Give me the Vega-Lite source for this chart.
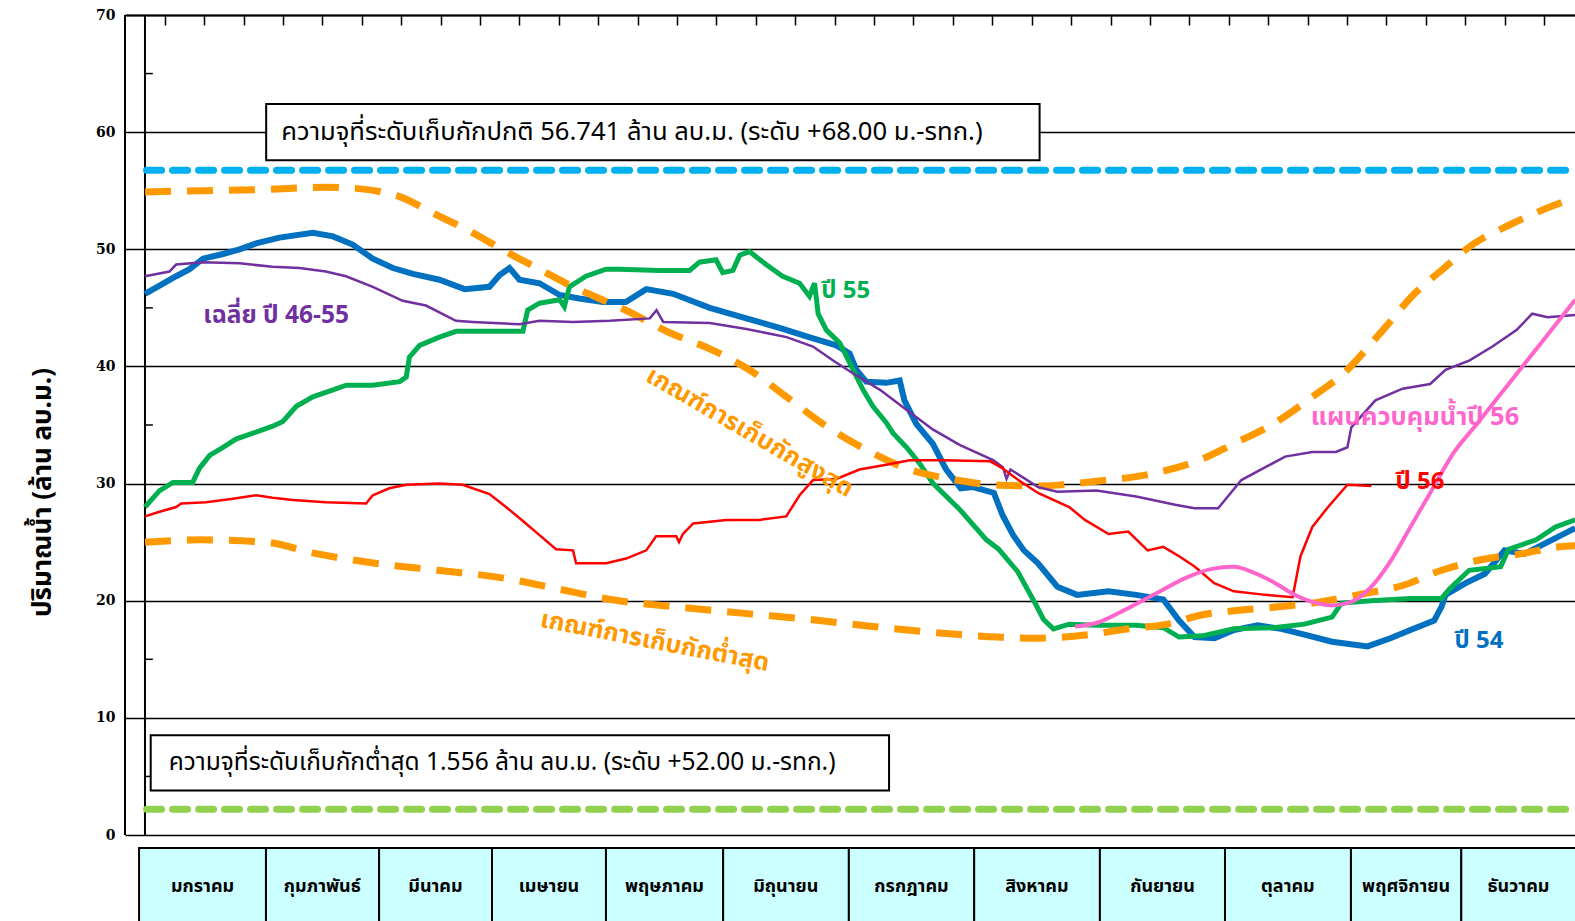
{
  "$schema": "https://vega.github.io/schema/vega-lite/v6.json",
  "width": 1450,
  "height": 906,
  "autosize": {"type": "none"},
  "padding": {"left": 125, "top": 15, "right": 0, "bottom": 0},
  "background": "white",
  "config": {"view": {"stroke": null}, "font": "Tahoma, Noto Sans Thai, Noto Sans, sans-serif"},
  "datasets": {
    "one": [{}],
    "L": [
      {"s":"b54","d":0,"v":46.2},{"s":"b54","d":3.7,"v":46.9},{"s":"b54","d":7.9,"v":47.7},{"s":"b54","d":11.3,"v":48.3},{"s":"b54","d":14.7,"v":49.2},{"s":"b54","d":19.8,"v":49.6},{"s":"b54","d":24,"v":50},{"s":"b54","d":28.2,"v":50.5},{"s":"b54","d":34.1,"v":51},{"s":"b54","d":42.6,"v":51.4},{"s":"b54","d":47.7,"v":51.1},{"s":"b54","d":52.7,"v":50.4},{"s":"b54","d":57.8,"v":49.2},{"s":"b54","d":62.9,"v":48.4},{"s":"b54","d":68,"v":47.9},{"s":"b54","d":74.7,"v":47.4},{"s":"b54","d":81.1,"v":46.6},{"s":"b54","d":87.4,"v":46.8},{"s":"b54","d":90,"v":47.8},{"s":"b54","d":92.5,"v":48.4},{"s":"b54","d":95,"v":47.4},{"s":"b54","d":100.1,"v":47.1},{"s":"b54","d":105.2,"v":46.1},{"s":"b54","d":110.2,"v":45.8},{"s":"b54","d":116.2,"v":45.5},{"s":"b54","d":122,"v":45.5},{"s":"b54","d":127.2,"v":46.6},{"s":"b54","d":134,"v":46.2},{"s":"b54","d":143.3,"v":45},{"s":"b54","d":152.6,"v":44.1},{"s":"b54","d":161,"v":43.3},{"s":"b54","d":169.5,"v":42.4},{"s":"b54","d":175.4,"v":41.8},{"s":"b54","d":178.8,"v":41.1},{"s":"b54","d":180.5,"v":39.7},{"s":"b54","d":183,"v":38.7},{"s":"b54","d":188.1,"v":38.6},{"s":"b54","d":191.5,"v":38.8},{"s":"b54","d":192.7,"v":37.1},{"s":"b54","d":195.7,"v":35.1},{"s":"b54","d":199.9,"v":33.4},{"s":"b54","d":203.3,"v":31.2},{"s":"b54","d":207,"v":29.6},{"s":"b54","d":210.1,"v":29.7},{"s":"b54","d":215.4,"v":29.2},{"s":"b54","d":217.6,"v":27.3},{"s":"b54","d":220.3,"v":25.6},{"s":"b54","d":223,"v":24.3},{"s":"b54","d":226.6,"v":23.2},{"s":"b54","d":231.5,"v":21.2},{"s":"b54","d":236.5,"v":20.5},{"s":"b54","d":244.5,"v":20.8},{"s":"b54","d":251.5,"v":20.5},{"s":"b54","d":258.4,"v":20.1},{"s":"b54","d":262.4,"v":18.3},{"s":"b54","d":266.3,"v":16.9},{"s":"b54","d":271.4,"v":16.8},{"s":"b54","d":276.3,"v":17.5},{"s":"b54","d":282.3,"v":17.9},{"s":"b54","d":288.3,"v":17.6},{"s":"b54","d":294.2,"v":17.1},{"s":"b54","d":301.2,"v":16.5},{"s":"b54","d":310.2,"v":16.1},{"s":"b54","d":316,"v":16.8},{"s":"b54","d":321.1,"v":17.5},{"s":"b54","d":327.1,"v":18.3},{"s":"b54","d":329,"v":19.5},{"s":"b54","d":330,"v":20.5},{"s":"b54","d":335.1,"v":21.5},{"s":"b54","d":340,"v":22.3},{"s":"b54","d":345,"v":24.3},{"s":"b54","d":350,"v":24},{"s":"b54","d":355.9,"v":25},{"s":"b54","d":362.9,"v":26.2},

      {"s":"g55","d":0,"v":28},{"s":"g55","d":3.7,"v":29.4},{"s":"g55","d":7.1,"v":30.1},{"s":"g55","d":12.1,"v":30.1},{"s":"g55","d":13.8,"v":31.3},{"s":"g55","d":16.4,"v":32.4},{"s":"g55","d":19.8,"v":33.1},{"s":"g55","d":23.1,"v":33.8},{"s":"g55","d":27.4,"v":34.3},{"s":"g55","d":32.4,"v":34.9},{"s":"g55","d":35,"v":35.3},{"s":"g55","d":38.4,"v":36.6},{"s":"g55","d":42.6,"v":37.4},{"s":"g55","d":47.7,"v":38},{"s":"g55","d":51.1,"v":38.4},{"s":"g55","d":57.8,"v":38.4},{"s":"g55","d":64.6,"v":38.7},{"s":"g55","d":66.3,"v":39.1},{"s":"g55","d":67.1,"v":40.8},{"s":"g55","d":69.7,"v":41.8},{"s":"g55","d":74.7,"v":42.5},{"s":"g55","d":79,"v":43},{"s":"g55","d":87.4,"v":43},{"s":"g55","d":95.9,"v":43},{"s":"g55","d":97.1,"v":44.8},{"s":"g55","d":100.1,"v":45.4},{"s":"g55","d":105.2,"v":45.7},{"s":"g55","d":106.4,"v":45.1},{"s":"g55","d":107.7,"v":46.8},{"s":"g55","d":111.9,"v":47.7},{"s":"g55","d":117,"v":48.3},{"s":"g55","d":120.4,"v":48.3},{"s":"g55","d":130.5,"v":48.2},{"s":"g55","d":138.2,"v":48.2},{"s":"g55","d":140.7,"v":48.9},{"s":"g55","d":144.9,"v":49.1},{"s":"g55","d":146.6,"v":48},{"s":"g55","d":149.2,"v":48.2},{"s":"g55","d":150.9,"v":49.5},{"s":"g55","d":153.4,"v":49.8},{"s":"g55","d":157.6,"v":48.7},{"s":"g55","d":161.8,"v":47.7},{"s":"g55","d":166.1,"v":47.1},{"s":"g55","d":168.6,"v":46},{"s":"g55","d":169.9,"v":47.1},{"s":"g55","d":170.8,"v":44.5},{"s":"g55","d":172.9,"v":43.1},{"s":"g55","d":176.3,"v":42},{"s":"g55","d":179.7,"v":39.7},{"s":"g55","d":182.2,"v":38},{"s":"g55","d":184.7,"v":36.6},{"s":"g55","d":188.1,"v":35.2},{"s":"g55","d":189.8,"v":34.3},{"s":"g55","d":193.2,"v":33.1},{"s":"g55","d":196.6,"v":31.7},{"s":"g55","d":200,"v":30},{"s":"g55","d":206.7,"v":27.8},{"s":"g55","d":213.5,"v":25.2},{"s":"g55","d":216.6,"v":24.4},{"s":"g55","d":221.4,"v":22.5},{"s":"g55","d":226,"v":19.7},{"s":"g55","d":228,"v":18.4},{"s":"g55","d":230.5,"v":17.6},{"s":"g55","d":234.5,"v":18},{"s":"g55","d":241.4,"v":17.9},{"s":"g55","d":251.5,"v":17.9},{"s":"g55","d":258.4,"v":17.7},{"s":"g55","d":262.4,"v":16.9},{"s":"g55","d":268.3,"v":17},{"s":"g55","d":276.3,"v":17.6},{"s":"g55","d":286.3,"v":17.7},{"s":"g55","d":294.2,"v":18},{"s":"g55","d":301.2,"v":18.6},{"s":"g55","d":303.6,"v":19.8},{"s":"g55","d":311.2,"v":20},{"s":"g55","d":321.1,"v":20.2},{"s":"g55","d":329,"v":20.2},{"s":"g55","d":331,"v":21},{"s":"g55","d":336,"v":22.6},{"s":"g55","d":344,"v":22.9},{"s":"g55","d":346,"v":24.4},{"s":"g55","d":353,"v":25.2},{"s":"g55","d":357.9,"v":26.3},{"s":"g55","d":362.9,"v":26.9},

      {"s":"avg","d":0,"v":47.7},{"s":"avg","d":6.2,"v":48.1},{"s":"avg","d":7.9,"v":48.7},{"s":"avg","d":14.7,"v":48.9},{"s":"avg","d":24,"v":48.8},{"s":"avg","d":32.4,"v":48.5},{"s":"avg","d":39.2,"v":48.4},{"s":"avg","d":45.9,"v":48.1},{"s":"avg","d":51,"v":47.7},{"s":"avg","d":57.8,"v":46.8},{"s":"avg","d":65.4,"v":45.6},{"s":"avg","d":71.3,"v":45.2},{"s":"avg","d":78.9,"v":43.9},{"s":"avg","d":83.2,"v":43.8},{"s":"avg","d":95,"v":43.6},{"s":"avg","d":100.1,"v":43.9},{"s":"avg","d":108.6,"v":43.8},{"s":"avg","d":117.9,"v":43.9},{"s":"avg","d":128.1,"v":44.1},{"s":"avg","d":129.8,"v":44.8},{"s":"avg","d":131.5,"v":43.8},{"s":"avg","d":143.3,"v":43.7},{"s":"avg","d":152.6,"v":43.2},{"s":"avg","d":162.8,"v":42.5},{"s":"avg","d":169.5,"v":41.7},{"s":"avg","d":174.6,"v":40.5},{"s":"avg","d":179.7,"v":39.4},{"s":"avg","d":186.5,"v":38},{"s":"avg","d":193.2,"v":36.3},{"s":"avg","d":200,"v":34.6},{"s":"avg","d":206.7,"v":33.3},{"s":"avg","d":215.2,"v":32},{"s":"avg","d":217.7,"v":31.4},{"s":"avg","d":218.6,"v":30.4},{"s":"avg","d":219.6,"v":31.2},{"s":"avg","d":226.6,"v":29.7},{"s":"avg","d":231.5,"v":29.3},{"s":"avg","d":241.4,"v":29.4},{"s":"avg","d":251.5,"v":28.9},{"s":"avg","d":261.4,"v":28.2},{"s":"avg","d":266.3,"v":27.9},{"s":"avg","d":272.3,"v":27.9},{"s":"avg","d":278.2,"v":30.3},{"s":"avg","d":284.3,"v":31.4},{"s":"avg","d":289.3,"v":32.3},{"s":"avg","d":296.2,"v":32.7},{"s":"avg","d":302.2,"v":32.7},{"s":"avg","d":305.1,"v":33.1},{"s":"avg","d":306.1,"v":34.8},{"s":"avg","d":312.2,"v":37.1},{"s":"avg","d":319.1,"v":38.1},{"s":"avg","d":326.1,"v":38.5},{"s":"avg","d":330,"v":39.7},{"s":"avg","d":336,"v":40.5},{"s":"avg","d":341.9,"v":41.7},{"s":"avg","d":348,"v":43.1},{"s":"avg","d":352,"v":44.5},{"s":"avg","d":355.9,"v":44.2},{"s":"avg","d":362.9,"v":44.4},

      {"s":"r56","d":0,"v":27.2},{"s":"r56","d":3.7,"v":27.6},{"s":"r56","d":7.9,"v":28},{"s":"r56","d":9.2,"v":28.3},{"s":"r56","d":15.5,"v":28.4},{"s":"r56","d":22.3,"v":28.7},{"s":"r56","d":28.2,"v":29},{"s":"r56","d":32.4,"v":28.8},{"s":"r56","d":37.5,"v":28.6},{"s":"r56","d":45.9,"v":28.4},{"s":"r56","d":56.1,"v":28.3},{"s":"r56","d":57.8,"v":29},{"s":"r56","d":62,"v":29.6},{"s":"r56","d":66.3,"v":29.9},{"s":"r56","d":74.7,"v":30},{"s":"r56","d":80.6,"v":29.9},{"s":"r56","d":87.4,"v":29.1},{"s":"r56","d":91.6,"v":28},{"s":"r56","d":95.9,"v":26.8},{"s":"r56","d":100.1,"v":25.6},{"s":"r56","d":104.3,"v":24.4},{"s":"r56","d":108.6,"v":24.3},{"s":"r56","d":109.4,"v":23.2},{"s":"r56","d":117,"v":23.2},{"s":"r56","d":122.1,"v":23.6},{"s":"r56","d":127.2,"v":24.3},{"s":"r56","d":129.7,"v":25.5},{"s":"r56","d":134.8,"v":25.5},{"s":"r56","d":135.5,"v":25},{"s":"r56","d":136.5,"v":25.7},{"s":"r56","d":139.1,"v":26.6},{"s":"r56","d":147.5,"v":26.9},{"s":"r56","d":156,"v":26.9},{"s":"r56","d":162.7,"v":27.2},{"s":"r56","d":166.1,"v":29},{"s":"r56","d":169.5,"v":30.3},{"s":"r56","d":175.4,"v":30.4},{"s":"r56","d":181.3,"v":31.2},{"s":"r56","d":188.1,"v":31.6},{"s":"r56","d":194,"v":32},{"s":"r56","d":202.5,"v":32},{"s":"r56","d":214.5,"v":31.9},{"s":"r56","d":217.6,"v":31.3},{"s":"r56","d":221.6,"v":30.3},{"s":"r56","d":226.6,"v":29.2},{"s":"r56","d":234.5,"v":28},{"s":"r56","d":238.5,"v":26.9},{"s":"r56","d":244.5,"v":25.7},{"s":"r56","d":249.5,"v":25.9},{"s":"r56","d":254.4,"v":24.3},{"s":"r56","d":258.4,"v":24.6},{"s":"r56","d":262.4,"v":23.8},{"s":"r56","d":266.4,"v":22.9},{"s":"r56","d":271.3,"v":21.5},{"s":"r56","d":276.3,"v":20.8},{"s":"r56","d":284.3,"v":20.5},{"s":"r56","d":291.2,"v":20.3},{"s":"r56","d":293.2,"v":23.8},{"s":"r56","d":296.2,"v":26.3},{"s":"r56","d":300.2,"v":28},{"s":"r56","d":305.1,"v":29.9},{"s":"r56","d":311.2,"v":29.8},

      {"s":"plan","d":236,"v":17.8},{"s":"plan","d":241.4,"v":18.1},{"s":"plan","d":248.5,"v":19.2},{"s":"plan","d":256.4,"v":20.6},{"s":"plan","d":264.4,"v":22},{"s":"plan","d":270.4,"v":22.7},{"s":"plan","d":276.3,"v":22.9},{"s":"plan","d":281.3,"v":22.4},{"s":"plan","d":286.3,"v":21.6},{"s":"plan","d":291.2,"v":20.6},{"s":"plan","d":296.2,"v":19.9},{"s":"plan","d":301.2,"v":19.6},{"s":"plan","d":306.1,"v":19.9},{"s":"plan","d":311.2,"v":21.2},{"s":"plan","d":316.1,"v":23.4},{"s":"plan","d":321.1,"v":26.3},{"s":"plan","d":326.1,"v":29.2},{"s":"plan","d":332,"v":32.6},{"s":"plan","d":338,"v":35.1},{"s":"plan","d":346,"v":38.5},{"s":"plan","d":354,"v":41.9},{"s":"plan","d":362.9,"v":45.7},

      {"s":"upper","d":0,"v":54.9},{"s":"upper","d":15,"v":55},{"s":"upper","d":30,"v":55.1},{"s":"upper","d":45.9,"v":55.3},{"s":"upper","d":53.5,"v":55.2},{"s":"upper","d":60,"v":54.9},{"s":"upper","d":64.6,"v":54.5},{"s":"upper","d":73,"v":53.1},{"s":"upper","d":83.2,"v":51.4},{"s":"upper","d":91.6,"v":49.8},{"s":"upper","d":100.1,"v":48.3},{"s":"upper","d":108.6,"v":46.8},{"s":"upper","d":115.3,"v":45.8},{"s":"upper","d":122,"v":44.8},{"s":"upper","d":133,"v":42.9},{"s":"upper","d":144,"v":41.4},{"s":"upper","d":153.4,"v":39.7},{"s":"upper","d":162.8,"v":37.4},{"s":"upper","d":172,"v":35.1},{"s":"upper","d":181.3,"v":33.2},{"s":"upper","d":194,"v":31.2},{"s":"upper","d":204.2,"v":30.4},{"s":"upper","d":215.2,"v":29.9},{"s":"upper","d":226.5,"v":29.8},{"s":"upper","d":241.4,"v":30.2},{"s":"upper","d":256.4,"v":30.9},{"s":"upper","d":268.3,"v":32.1},{"s":"upper","d":276.3,"v":33.4},{"s":"upper","d":286.3,"v":35.1},{"s":"upper","d":296.2,"v":37.4},{"s":"upper","d":304.1,"v":39.4},{"s":"upper","d":314.1,"v":43.1},{"s":"upper","d":322.1,"v":46.2},{"s":"upper","d":330,"v":48.5},{"s":"upper","d":336,"v":50.2},{"s":"upper","d":347,"v":52.2},{"s":"upper","d":357.9,"v":53.8},{"s":"upper","d":362.9,"v":54.4},

      {"s":"lower","d":0,"v":25},{"s":"lower","d":14.5,"v":25.2},{"s":"lower","d":30.5,"v":25},{"s":"lower","d":43.8,"v":24},{"s":"lower","d":58.4,"v":23.2},{"s":"lower","d":74.3,"v":22.6},{"s":"lower","d":91.6,"v":21.9},{"s":"lower","d":104.9,"v":21},{"s":"lower","d":118.2,"v":20.1},{"s":"lower","d":134.1,"v":19.5},{"s":"lower","d":152.7,"v":18.9},{"s":"lower","d":168.6,"v":18.4},{"s":"lower","d":184.6,"v":17.8},{"s":"lower","d":203.2,"v":17.2},{"s":"lower","d":216.6,"v":16.9},{"s":"lower","d":226.5,"v":16.8},{"s":"lower","d":239.4,"v":17.1},{"s":"lower","d":249.5,"v":17.6},{"s":"lower","d":259.4,"v":18},{"s":"lower","d":268.3,"v":18.8},{"s":"lower","d":278.2,"v":19.2},{"s":"lower","d":288.3,"v":19.5},{"s":"lower","d":298.2,"v":19.9},{"s":"lower","d":309.2,"v":20.6},{"s":"lower","d":319.1,"v":21.3},{"s":"lower","d":329,"v":22.6},{"s":"lower","d":339,"v":23.5},{"s":"lower","d":349,"v":24},{"s":"lower","d":358.9,"v":24.6},{"s":"lower","d":362.9,"v":24.7}
    ],
    "minor": [{"v":5},{"v":15},{"v":25},{"v":35},{"v":45},{"v":55},{"v":65}],
    "months": [
      {"m":"มกราคม","a":-1.5,"b":30.7,"mid":14.6},
      {"m":"กุมภาพันธ์","a":30.7,"b":59.4,"mid":45},
      {"m":"มีนาคม","a":59.4,"b":88.05,"mid":73.7},
      {"m":"เมษายน","a":88.05,"b":116.97,"mid":102.5},
      {"m":"พฤษภาคม","a":116.97,"b":146.7,"mid":131.8},
      {"m":"มิถุนายน","a":146.7,"b":178.6,"mid":162.6},
      {"m":"กรกฎาคม","a":178.6,"b":210.4,"mid":194.5},
      {"m":"สิงหาคม","a":210.4,"b":242.3,"mid":226.3},
      {"m":"กันยายน","a":242.3,"b":274.04,"mid":258.2},
      {"m":"ตุลาคม","a":274.04,"b":306,"mid":290},
      {"m":"พฤศจิกายน","a":306,"b":334,"mid":320},
      {"m":"ธันวาคม","a":334,"b":372,"mid":348.5}
    ],
    "boxes": [
      {"id":"top","a":30.75,"b":227,"lo":57.6,"hi":62.4,"tx":34.6,"ty":60.05,"t":"ความจุที่ระดับเก็บกักปกติ 56.741 ล้าน ลบ.ม. (ระดับ +68.00 ม.-รทก.)"},
      {"id":"bot","a":1.45,"b":188.8,"lo":3.8,"hi":8.51,"tx":6.03,"ty":6.11,"t":"ความจุที่ระดับเก็บกักต่ำสุด  1.556 ล้าน ลบ.ม. (ระดับ +52.00 ม.-รทก.)"}
    ],
    "labels": [
      {"id":"avg","d":14.8,"v":44.3,"t":"เฉลี่ย ปี 46-55"},
      {"id":"g55","d":171.6,"v":46.4,"t":"ปี 55"},
      {"id":"plan","d":295.8,"v":35.7,"t":"แผนควบคุมน้ำปี 56"},
      {"id":"r56","d":317.3,"v":30.1,"t":"ปี 56"},
      {"id":"b54","d":332.3,"v":16.6,"t":"ปี 54"},
      {"id":"upper","d":153.5,"v":34.4,"t":"เกณฑ์การเก็บกักสูงสุด"},
      {"id":"lower","d":129.4,"v":16.56,"t":"เกณฑ์การเก็บกักต่ำสุด"}
    ]
  },
  "layer": [
    {
      "data": {"name": "one"},
      "mark": {"type": "rule", "stroke": "#000", "strokeWidth": 2},
      "encoding": {
        "x": {"datum": -5.07, "type": "quantitative",
              "scale": {"domain": [-5.07, 362.85], "nice": false, "zero": false},
              "axis": {"orient": "top", "title": null, "labels": false, "grid": false,
                       "values": [5,15,25,35,45,55,65,75,85,95,105,115,125,135,145,155,165,175,185,195,205,215,225,235,245,255,265,275,285,295,305,315,325,335,345,355],
                       "ticks": true, "tickSize": -10, "tickColor": "#000", "tickWidth": 1.5,
                       "domain": true, "domainColor": "#000", "domainWidth": 2}},
        "y": {"datum": 0, "type": "quantitative",
              "scale": {"domain": [-7.34, 70], "nice": false, "zero": false},
              "axis": {"values": [0,10,20,30,40,50,60,70], "grid": true, "gridColor": "#000", "gridWidth": 1.6,
                       "domain": false, "ticks": false, "tickSize": 0, "labelPadding": 10,
                       "labelFont": "DejaVu Serif", "labelFontSize": 14, "labelFontWeight": "bold", "labelColor": "#000",
                       "labelOverlap": false, "labelFlush": false,
                       "title": "ปริมาณน้ำ (ล้าน ลบ.ม.)", "titleFontSize": 26, "titleFontWeight": "bold", "titleColor": "#000",
                       "titleX": -83, "titleY": 477, "titleAngle": -90, "titleAlign": "center", "titleBaseline": "middle"}},
        "y2": {"datum": 70}
      }
    },
    {
      "data": {"name": "one"},
      "mark": {"type": "rule", "stroke": "#000", "strokeWidth": 2},
      "encoding": {"x": {"datum": 0}, "y": {"datum": 0}, "y2": {"datum": 70}}
    },
    {
      "data": {"name": "minor"},
      "mark": {"type": "rule", "stroke": "#000", "strokeWidth": 1.5},
      "encoding": {"x": {"datum": 0}, "x2": {"datum": 2}, "y": {"field": "v", "type": "quantitative"}}
    },
    {
      "data": {"name": "months"},
      "mark": {"type": "rect", "fill": "#CCFFFF", "stroke": "#000", "strokeWidth": 2, "clip": true},
      "encoding": {"x": {"field": "a", "type": "quantitative"}, "x2": {"field": "b"}, "y": {"datum": -1.1}, "y2": {"datum": -7.7}}
    },
    {
      "data": {"name": "months"},
      "mark": {"type": "text", "fontSize": 18, "fontWeight": "bold", "color": "#000", "align": "center", "baseline": "middle"},
      "encoding": {"x": {"field": "mid", "type": "quantitative"}, "y": {"datum": -4.44}, "text": {"field": "m"}}
    },
    {
      "data": {"name": "one"},
      "mark": {"type": "rule", "stroke": "#00B0F0", "strokeWidth": 7, "strokeDash": [15, 11], "strokeCap": "round"},
      "encoding": {"x": {"datum": 0.4}, "x2": {"datum": 362.85}, "y": {"datum": 56.741}}
    },
    {
      "data": {"name": "one"},
      "mark": {"type": "rule", "stroke": "#92D050", "strokeWidth": 7, "strokeDash": [15, 11], "strokeCap": "round"},
      "encoding": {"x": {"datum": 0.4}, "x2": {"datum": 362.85}, "y": {"datum": 2.2}}
    },
    {
      "data": {"name": "L"},
      "transform": [{"filter": "datum.s == 'b54'"}],
      "mark": {"type": "line", "stroke": "#0070C0", "strokeWidth": 6, "clip": true},
      "encoding": {"x": {"field": "d", "type": "quantitative"}, "y": {"field": "v", "type": "quantitative"}}
    },
    {
      "data": {"name": "L"},
      "transform": [{"filter": "datum.s == 'g55'"}],
      "mark": {"type": "line", "stroke": "#00B050", "strokeWidth": 5, "clip": true},
      "encoding": {"x": {"field": "d", "type": "quantitative"}, "y": {"field": "v", "type": "quantitative"}}
    },
    {
      "data": {"name": "L"},
      "transform": [{"filter": "datum.s == 'upper' || datum.s == 'lower'"}],
      "mark": {"type": "line", "stroke": "#FF9900", "strokeWidth": 7, "strokeDash": [26, 16], "interpolate": "monotone", "clip": true},
      "encoding": {"x": {"field": "d", "type": "quantitative"}, "y": {"field": "v", "type": "quantitative"}, "detail": {"field": "s"}}
    },
    {
      "data": {"name": "L"},
      "transform": [{"filter": "datum.s == 'avg'"}],
      "mark": {"type": "line", "stroke": "#7030A0", "strokeWidth": 2.5, "clip": true},
      "encoding": {"x": {"field": "d", "type": "quantitative"}, "y": {"field": "v", "type": "quantitative"}}
    },
    {
      "data": {"name": "L"},
      "transform": [{"filter": "datum.s == 'r56'"}],
      "mark": {"type": "line", "stroke": "#FF0000", "strokeWidth": 2.5, "clip": true},
      "encoding": {"x": {"field": "d", "type": "quantitative"}, "y": {"field": "v", "type": "quantitative"}}
    },
    {
      "data": {"name": "L"},
      "transform": [{"filter": "datum.s == 'plan'"}],
      "mark": {"type": "line", "stroke": "#FF66CC", "strokeWidth": 4, "interpolate": "monotone", "clip": true},
      "encoding": {"x": {"field": "d", "type": "quantitative"}, "y": {"field": "v", "type": "quantitative"}}
    },
    {
      "data": {"name": "boxes"},
      "mark": {"type": "rect", "fill": "#FFFFFF", "stroke": "#000", "strokeWidth": 2},
      "encoding": {"x": {"field": "a", "type": "quantitative"}, "x2": {"field": "b"}, "y": {"field": "lo", "type": "quantitative"}, "y2": {"field": "hi"}}
    },
    {
      "data": {"name": "boxes"},
      "transform": [{"filter": "datum.id == 'top'"}],
      "mark": {"type": "text", "fontSize": 25.6, "color": "#000", "align": "left", "baseline": "middle"},
      "encoding": {"x": {"field": "tx", "type": "quantitative"}, "y": {"field": "ty", "type": "quantitative"}, "text": {"field": "t"}}
    },
    {
      "data": {"name": "boxes"},
      "transform": [{"filter": "datum.id == 'bot'"}],
      "mark": {"type": "text", "fontSize": 24.5, "color": "#000", "align": "left", "baseline": "middle"},
      "encoding": {"x": {"field": "tx", "type": "quantitative"}, "y": {"field": "ty", "type": "quantitative"}, "text": {"field": "t"}}
    },
    {
      "data": {"name": "labels"},
      "transform": [{"filter": "datum.id == 'avg'"}],
      "mark": {"type": "text", "fontSize": 24.5, "fontWeight": "bold", "color": "#7030A0", "align": "left", "baseline": "middle"},
      "encoding": {"x": {"field": "d", "type": "quantitative"}, "y": {"field": "v", "type": "quantitative"}, "text": {"field": "t"}}
    },
    {
      "data": {"name": "labels"},
      "transform": [{"filter": "datum.id == 'g55'"}],
      "mark": {"type": "text", "fontSize": 24, "fontWeight": "bold", "color": "#00B050", "align": "left", "baseline": "middle"},
      "encoding": {"x": {"field": "d", "type": "quantitative"}, "y": {"field": "v", "type": "quantitative"}, "text": {"field": "t"}}
    },
    {
      "data": {"name": "labels"},
      "transform": [{"filter": "datum.id == 'plan'"}],
      "mark": {"type": "text", "fontSize": 25.5, "fontWeight": "bold", "color": "#FF66CC", "align": "left", "baseline": "middle"},
      "encoding": {"x": {"field": "d", "type": "quantitative"}, "y": {"field": "v", "type": "quantitative"}, "text": {"field": "t"}}
    },
    {
      "data": {"name": "labels"},
      "transform": [{"filter": "datum.id == 'r56'"}],
      "mark": {"type": "text", "fontSize": 24, "fontWeight": "bold", "color": "#FF0000", "align": "left", "baseline": "middle"},
      "encoding": {"x": {"field": "d", "type": "quantitative"}, "y": {"field": "v", "type": "quantitative"}, "text": {"field": "t"}}
    },
    {
      "data": {"name": "labels"},
      "transform": [{"filter": "datum.id == 'b54'"}],
      "mark": {"type": "text", "fontSize": 24, "fontWeight": "bold", "color": "#0070C0", "align": "left", "baseline": "middle"},
      "encoding": {"x": {"field": "d", "type": "quantitative"}, "y": {"field": "v", "type": "quantitative"}, "text": {"field": "t"}}
    },
    {
      "data": {"name": "labels"},
      "transform": [{"filter": "datum.id == 'upper'"}],
      "mark": {"type": "text", "fontSize": 25, "fontWeight": "bold", "color": "#FF9900", "align": "center", "baseline": "middle", "angle": 30},
      "encoding": {"x": {"field": "d", "type": "quantitative"}, "y": {"field": "v", "type": "quantitative"}, "text": {"field": "t"}}
    },
    {
      "data": {"name": "labels"},
      "transform": [{"filter": "datum.id == 'lower'"}],
      "mark": {"type": "text", "fontSize": 25, "fontWeight": "bold", "color": "#FF9900", "align": "center", "baseline": "middle", "angle": 11},
      "encoding": {"x": {"field": "d", "type": "quantitative"}, "y": {"field": "v", "type": "quantitative"}, "text": {"field": "t"}}
    }
  ]
}
